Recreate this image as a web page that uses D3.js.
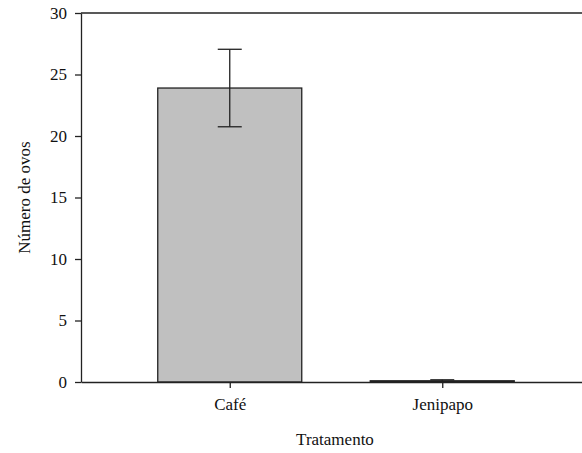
<!DOCTYPE html>
<html><head><meta charset="utf-8">
<script src="https://cdn.jsdelivr.net/npm/d3@7"></script>
</head><body style="margin:0">
<svg id="c" width="582" height="453"></svg>
<script>
const categories = ["Café", "Jenipapo"];
const means = [23.9, 0.1];
const errors = [3.15, 0.08];
const yTicks = [0, 5, 10, 15, 20, 25, 30];
const xLabel = "Tratamento";
const yLabel = "Número de ovos";

const svg = d3.select("#c");
const L = 81, R = 591, T = 13, B = 382;
const x = d3.scaleLinear().domain([0.3, 2.7]).range([L, R]);
const y = d3.scaleLinear().domain([0, 30]).range([B, T]);

svg.selectAll("rect.bar").data(means).join("rect")
  .attr("x", (d, i) => x(i + 1) - 72)
  .attr("width", 144)
  .attr("y", d => y(d))
  .attr("height", d => B - y(d))
  .attr("fill", "#c0c0c0").attr("stroke", "#222").attr("stroke-width", 1.3);

const eb = svg.selectAll("g.err").data(means).join("g").attr("stroke", "#222").attr("stroke-width", 1.3);
eb.append("line").attr("x1", (d, i) => x(i + 1)).attr("x2", (d, i) => x(i + 1))
  .attr("y1", (d, i) => y(d + errors[i])).attr("y2", (d, i) => y(Math.max(0, d - errors[i])));
eb.append("line").attr("x1", (d, i) => x(i + 1) - 12).attr("x2", (d, i) => x(i + 1) + 12)
  .attr("y1", (d, i) => y(d + errors[i])).attr("y2", (d, i) => y(d + errors[i]));
eb.append("line").attr("x1", (d, i) => x(i + 1) - 12).attr("x2", (d, i) => x(i + 1) + 12)
  .attr("y1", (d, i) => y(Math.max(0, d - errors[i]))).attr("y2", (d, i) => y(Math.max(0, d - errors[i])));

const ya = svg.append("g").attr("transform", `translate(${L},0)`)
  .call(d3.axisLeft(y).tickValues(yTicks).tickSize(6).tickPadding(8).tickSizeOuter(0));
ya.select(".domain").attr("stroke", "#222").attr("stroke-width", 1.3);
ya.selectAll(".tick line").attr("stroke", "#222").attr("stroke-width", 1.3);

const xa = svg.append("g").attr("transform", `translate(0,${B})`)
  .call(d3.axisBottom(x).tickValues([1, 2]).tickFormat((d) => categories[d - 1]).tickSize(6).tickPadding(10).tickSizeOuter(0));
xa.select(".domain").attr("stroke", "#222").attr("stroke-width", 1.3);
xa.selectAll(".tick line").attr("stroke", "#222").attr("stroke-width", 1.3);

svg.append("line").attr("x1", L).attr("x2", R).attr("y1", T).attr("y2", T)
  .attr("stroke", "#222").attr("stroke-width", 1.5);

svg.append("text").attr("x", 335).attr("y", 445).attr("text-anchor", "middle").text(xLabel);
svg.append("text").attr("transform", `translate(30,${(T + B) / 2}) rotate(-90)`)
  .attr("text-anchor", "middle").text(yLabel);

svg.selectAll("text")
  .style("font-family", "'Liberation Serif'", "important")
  .style("font-size", "17px", "important")
  .style("fill", "#111");
</script>
</body></html>
